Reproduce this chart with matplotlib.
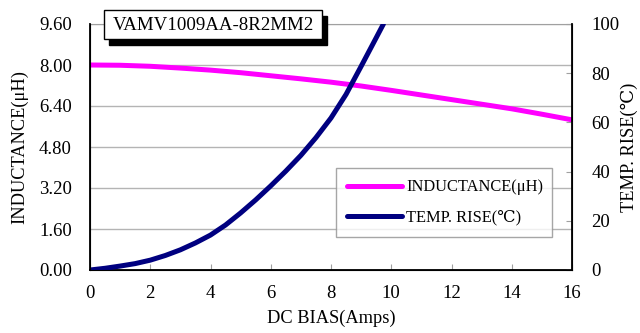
import numpy as np
import matplotlib.pyplot as plt
from matplotlib.patches import Rectangle

plt.rcParams['font.family'] = ['Liberation Serif', 'DejaVu Serif']

# values
bias = [0, 1, 2, 3, 4, 5, 6, 7, 8, 9, 10, 11, 12, 13, 14, 15, 16]
inductance = [8.00, 7.99, 7.95, 7.88, 7.80, 7.70, 7.58, 7.46, 7.33, 7.18, 7.01, 6.83, 6.65, 6.47, 6.29, 6.08, 5.86]
temp_bias = [0, 0.5, 1, 1.5, 2, 2.5, 3, 3.5, 4, 4.5, 5, 5.5, 6, 6.5, 7, 7.5, 8, 8.5, 9, 9.5, 9.74]
temp_rise = [0, 0.7, 1.6, 2.6, 4.0, 5.9, 8.2, 11.0, 14.2, 18.3, 23.2, 28.5, 34.2, 40.2, 46.6, 53.8, 61.8, 71.4, 82.8, 94.4, 100]

left_ticks = [0.00, 1.60, 3.20, 4.80, 6.40, 8.00, 9.60]
right_ticks = [0, 20, 40, 60, 80, 100]
x_ticks = [0, 2, 4, 6, 8, 10, 12, 14, 16]

W, H = 640, 333
fig = plt.figure(figsize=(6.4, 3.33), dpi=100)
ax = fig.add_axes([90/W, 63/H, 482/W, 246/H])
ax2 = ax.twinx()

ax.set_xlim(0, 16)
ax.set_ylim(0, 9.6)
ax2.set_ylim(0, 100)

ax.set_yticks(left_ticks)
ax.set_yticklabels(['%.2f' % v for v in left_ticks])
ax.set_xticks(x_ticks)
ax2.set_yticks(right_ticks)
ax.grid(axis='y', color='#b4b4b4', lw=1)
ax.set_axisbelow(True)

ax.spines['top'].set_color('#a0a0a0')
for s in ['left', 'bottom']:
    ax.spines[s].set_linewidth(1.3)
ax2.spines['right'].set_linewidth(1.3)
ax2.spines['top'].set_visible(False)

ax.tick_params(axis='x', direction='in', length=4, labelsize=13.5, pad=11, color='#a0a0a0')
ax.tick_params(axis='y', length=0, labelsize=13.5, pad=13)
ax2.tick_params(axis='y', direction='in', length=4, labelsize=13.5, pad=14, color='#a0a0a0')

l1, = ax.plot(bias, inductance, color='#ff00ff', lw=3.6, solid_capstyle='round', label='INDUCTANCE(\u03bcH)')
l2, = ax2.plot(temp_bias, temp_rise, color='#000080', lw=3.6, solid_capstyle='round', label='TEMP. RISE(\u2103)')

ax.set_xlabel('DC BIAS(Amps)', fontsize=13.2, labelpad=5)
ax.set_ylabel('INDUCTANCE(\u03bcH)', fontsize=13.2, labelpad=8)
fig.text(629/W, 1 - 147/H, 'TEMP. RISE(\u2103)', rotation=90, ha='center', va='center', fontsize=13.2)

leg = ax.legend(handles=[l1, l2], loc='upper left',
                bbox_to_anchor=(336/W, 1 - 168/H, 216/W, 0), bbox_transform=fig.transFigure,
                mode='expand', borderaxespad=0, fontsize=11.8, frameon=True, fancybox=False,
                handlelength=3.35, handletextpad=0.25, borderpad=0.7, labelspacing=0.85)
leg.get_frame().set_edgecolor('#909090')
leg.get_frame().set_linewidth(1)
leg.set_zorder(5)

# title box with shadow
fig.patches.append(Rectangle((109/W, 1 - 45/H), 218/W, 29/H, transform=fig.transFigure,
                             facecolor='black', edgecolor='black', zorder=3))
fig.patches.append(Rectangle((104/W, 1 - 39/H), 218/W, 29/H, transform=fig.transFigure,
                             facecolor='white', edgecolor='black', lw=1, zorder=4))
fig.text(213/W, 1 - 25/H, 'VAMV1009AA-8R2MM2', ha='center', va='center', fontsize=13.6, zorder=5)

fig.savefig('out.png', dpi=100)
